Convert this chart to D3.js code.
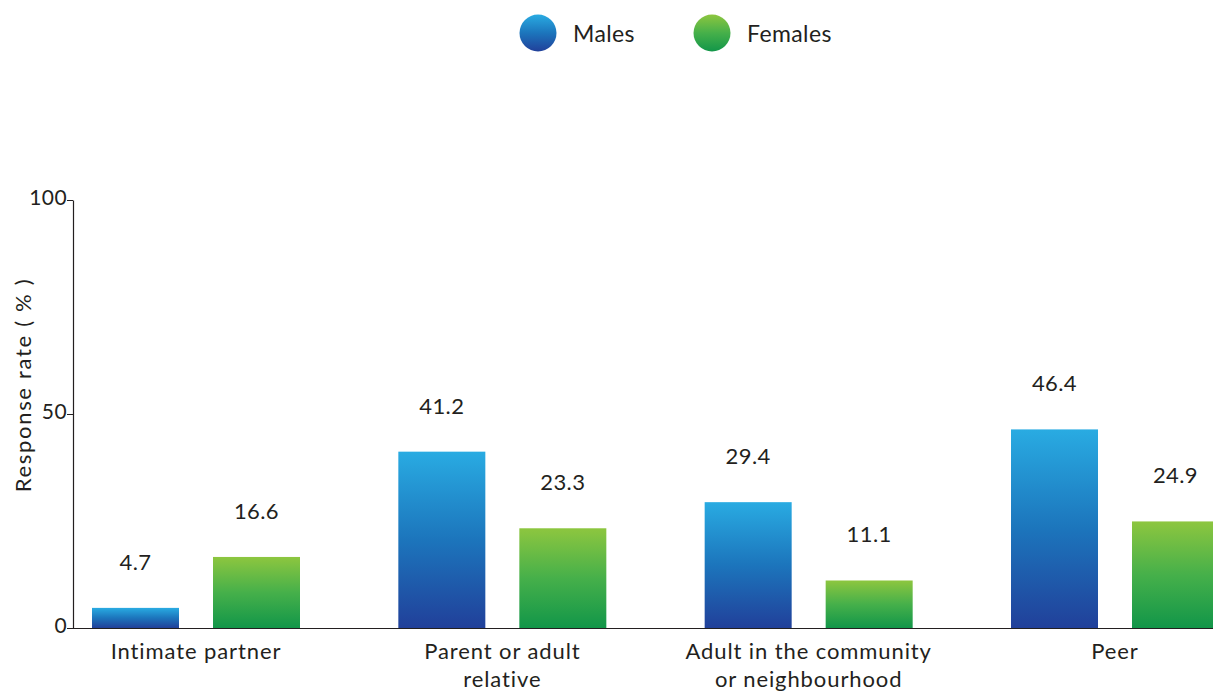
<!DOCTYPE html>
<html><head><meta charset="utf-8">
<script src="https://cdn.jsdelivr.net/npm/d3@7"></script>
<style>
body{margin:0;background:#fff}
svg{display:block;font-family:Lato, "Open Sans", sans-serif}
</style>
</head><body>
<svg id="chart" width="1213" height="695"></svg>
<script>
// Response rate (%) by perpetrator type and sex
const categories = ["Intimate partner", "Parent or adult relative", "Adult in the community or neighbourhood", "Peer"];
const categoryLines = [["Intimate partner"], ["Parent or adult", "relative"], ["Adult in the community", "or neighbourhood"], ["Peer"]];
const seriesNames = ["Males", "Females"];
const males = [4.7, 41.2, 29.4, 46.4];
const females = [16.6, 23.3, 11.1, 24.9];
const yTicks = [0, 50, 100];
const yTitle = "Response rate ( % )";

const svg = d3.select("#chart");
const textColor = "#231f20";

// gradients: light at the top, dark at the base of each mark
const defs = svg.append("defs");
const gradients = {
  Males: [["0%", "#29abe2"], ["50%", "#1c75bc"], ["100%", "#21409a"]],
  Females: [["0%", "#8dc63f"], ["50%", "#46b04a"], ["100%", "#129649"]]
};
Object.entries(gradients).forEach(([name, stops]) => {
  const g = defs.append("linearGradient").attr("id", "grad-" + name)
    .attr("x1", 0).attr("y1", 0).attr("x2", 0).attr("y2", 1);
  stops.forEach(([o, c]) => g.append("stop").attr("offset", o).attr("stop-color", c));
});

const y = d3.scaleLinear().domain([0, 100]).range([628, 200]);
const x0 = d3.scaleBand().domain(categories).range([92, 1219]).paddingInner(0.321).paddingOuter(0);
const x1 = d3.scaleBand().domain(seriesNames).range([0, x0.bandwidth()]).paddingInner(0.281).paddingOuter(0);

const rows = categories.map((c, i) => ({ cat: c, values: [
  { key: "Males", value: males[i] },
  { key: "Females", value: females[i] }
]}));

// bars
const groups = svg.append("g").selectAll("g").data(rows).join("g")
  .attr("transform", d => `translate(${x0(d.cat)},0)`);

groups.selectAll("rect").data(d => d.values).join("rect")
  .attr("x", d => x1(d.key))
  .attr("y", d => y(d.value))
  .attr("width", x1.bandwidth())
  .attr("height", d => y(0) - y(d.value))
  .attr("fill", d => `url(#grad-${d.key})`);

// value labels
groups.selectAll("text.val").data(d => d.values).join("text")
  .attr("class", "val")
  .attr("x", d => x1(d.key) + x1.bandwidth() / 2)
  .attr("y", d => y(d.value) - 38)
  .attr("text-anchor", "middle")
  .attr("font-size", 22)
  .attr("letter-spacing", 0.4)
  .attr("fill", textColor)
  .text(d => d.value.toFixed(1));

// x axis baseline
svg.append("line")
  .attr("x1", 73).attr("x2", 1213)
  .attr("y1", y(0) + 0.5).attr("y2", y(0) + 0.5)
  .attr("stroke", textColor).attr("stroke-width", 1.2);

// category labels
const catLabels = svg.append("g").selectAll("text").data(rows).join("text")
  .attr("text-anchor", "middle")
  .attr("font-size", 22)
  .attr("letter-spacing", 0.9)
  .attr("fill", textColor)
  .attr("transform", d => `translate(${x0(d.cat) + x0.bandwidth() / 2},659)`);
catLabels.selectAll("tspan").data((d, i) => categoryLines[i]).join("tspan")
  .attr("x", 0)
  .attr("dy", (d, i) => i === 0 ? 0 : 28)
  .text(d => d);

// y axis
const yAxis = svg.append("g")
  .attr("transform", "translate(73,0)")
  .call(d3.axisLeft(y).tickValues(yTicks).tickSize(6).tickSizeOuter(0).tickPadding(0));
yAxis.select(".domain").attr("stroke", textColor).attr("stroke-width", 1.2);
yAxis.selectAll(".tick line").attr("stroke", textColor);
yAxis.selectAll(".tick text")
  .attr("font-family", "Lato, sans-serif")
  .attr("font-size", 21)
  .attr("letter-spacing", 0.4)
  .attr("fill", textColor)
  .attr("dy", "0.2em");

svg.append("text")
  .attr("transform", "translate(22,385) rotate(-90)")
  .attr("text-anchor", "middle")
  .attr("dominant-baseline", "central")
  .attr("font-size", 22)
  .attr("letter-spacing", 1.7)
  .attr("fill", textColor)
  .text(yTitle);

// legend
const legendX = [538, 712];
const legend = svg.append("g").selectAll("g").data(seriesNames).join("g")
  .attr("transform", (d, i) => `translate(${legendX[i]},33)`);
legend.append("circle").attr("r", 18.5).attr("fill", d => `url(#grad-${d})`);
legend.append("text")
  .attr("x", 35)
  .attr("dominant-baseline", "central")
  .attr("font-size", 23)
  .attr("letter-spacing", 0.4)
  .attr("fill", textColor)
  .text(d => d);
</script>
</body></html>
